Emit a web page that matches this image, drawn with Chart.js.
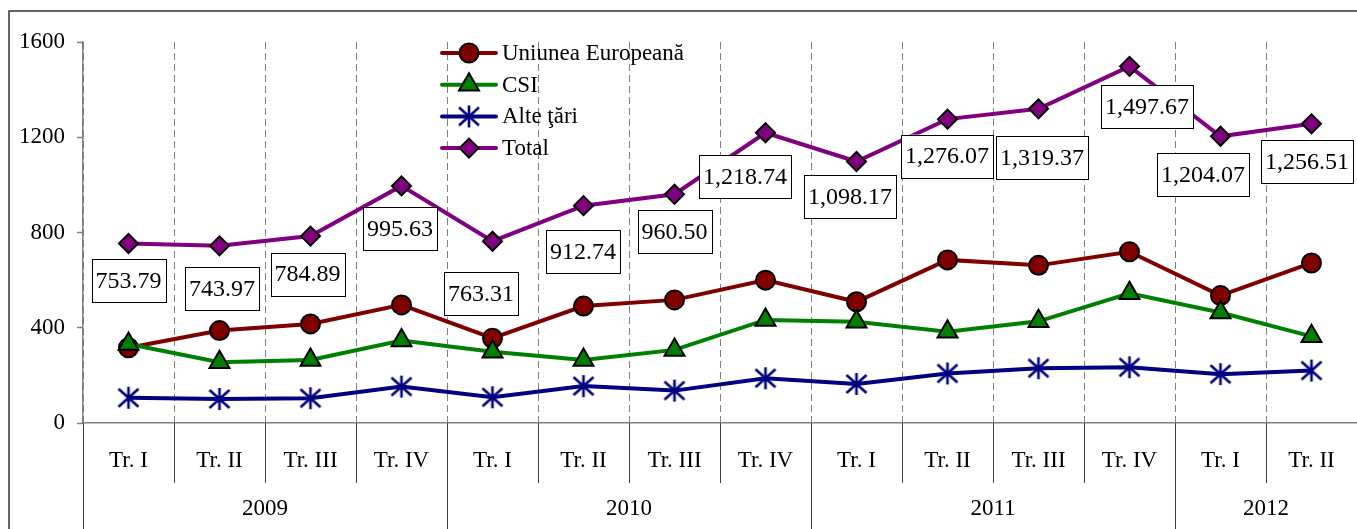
<!DOCTYPE html>
<html>
<head>
<meta charset="utf-8">
<script src="https://cdn.jsdelivr.net/npm/chart.js@4.4.0/dist/chart.umd.min.js"></script>
<style>
  html, body { margin: 0; padding: 0; background: #fff; overflow: hidden; }
  #wrap { position: relative; width: 1357px; height: 529px; }
</style>
</head>
<body>
<div id="wrap"><canvas id="chart"></canvas></div>
<script>
// Date
const quarters = ['Tr. I', 'Tr. II', 'Tr. III', 'Tr. IV', 'Tr. I', 'Tr. II', 'Tr. III', 'Tr. IV',
  'Tr. I', 'Tr. II', 'Tr. III', 'Tr. IV', 'Tr. I', 'Tr. II'];
const years = ['2009', '2010', '2011', '2012'];
const quartersPerYear = [4, 4, 4, 2];

const ueValues = [316, 388, 416, 496, 356, 491, 517, 600, 509, 685, 662, 719, 535, 672];
const csiValues = [332, 255, 265, 346, 299, 265, 307, 433, 425, 383, 427, 545, 464, 364];
const alteValues = [106, 101, 104, 153, 108, 155, 136, 188, 164, 208, 230, 234, 205, 220];
const totalValues = [753.79, 743.97, 784.89, 995.63, 763.31, 912.74, 960.50, 1218.74,
  1098.17, 1276.07, 1319.37, 1497.67, 1204.07, 1256.51];

const yTicks = [0, 400, 800, 1200, 1600];

const SERIF = '"Liberation Serif", "Times New Roman", serif';

// marker "asterisc" pentru Alte tari
function makeAsterisk(color) {
  const size = 26;
  const c = document.createElement('canvas');
  c.width = size;
  c.height = size;
  const g = c.getContext('2d');
  g.strokeStyle = color;
  g.lineWidth = 2.6;
  const m = size / 2;
  g.beginPath();
  g.moveTo(m, m - 11);
  g.lineTo(m, m + 11);
  g.moveTo(m - 10, m - 9);
  g.lineTo(m + 10, m + 9);
  g.moveTo(m + 10, m - 9);
  g.lineTo(m - 10, m + 9);
  g.stroke();
  return c;
}
const asterisk = makeAsterisk('#000080');

// deplasarea etichetelor fata de punct (px)
const labelShift = [[0, 37], [2.5, 42.5], [-3, 38], [-1.5, 42.5], [-11.5, 52], [-0.5, 46], [0, 37],
  [-20.5, 44], [-6.5, 35], [-0.5, 37], [3.5, 49], [17.5, 40], [-17.5, 38], [-4.5, 38]];

function fmt(v) {
  return v.toLocaleString('en-US', { minimumFractionDigits: 2, maximumFractionDigits: 2 });
}

/**
 * Etichete, axa pe doua niveluri, legenda si chenar
 */
const decorPlugin = {
  id: 'decor',
  afterDatasetsDraw(chart) {
    const ctx = chart.ctx;
    const meta = chart.getDatasetMeta(3);
    ctx.save();
    ctx.font = '24px ' + SERIF;
    ctx.textAlign = 'center';
    ctx.textBaseline = 'middle';
    meta.data.forEach((pt, i) => {
      const text = fmt(totalValues[i]);
      const w = ctx.measureText(text).width + 8;
      const h = 43;
      const cx = pt.x + labelShift[i][0];
      const cy = pt.y + labelShift[i][1];
      ctx.fillStyle = '#fff';
      ctx.fillRect(cx - w / 2, cy - h / 2, w, h);
      ctx.strokeStyle = '#000';
      ctx.lineWidth = 1;
      ctx.strokeRect(Math.round(cx - w / 2) + 0.5, Math.round(cy - h / 2) + 0.5, Math.round(w), h);
      ctx.fillStyle = '#000';
      ctx.fillText(text, cx, cy + 1);
    });
    ctx.restore();
  },
  afterDraw(chart) {
    const ctx = chart.ctx;
    const xs = chart.scales.x;
    const area = chart.chartArea;
    const half = (xs.getPixelForValue(1) - xs.getPixelForValue(0)) / 2;
    const H = chart.height;

    ctx.save();
    // chenar exterior
    ctx.strokeStyle = '#333';
    ctx.lineWidth = 1.5;
    ctx.strokeRect(9, 11, chart.width + 20, H + 20);

    // separatoare sub axa
    const yearStarts = [];
    let acc = 0;
    quartersPerYear.forEach(n => { yearStarts.push(acc); acc += n; });
    ctx.strokeStyle = '#404040';
    ctx.lineWidth = 1;
    for (let i = 0; i <= quarters.length; i++) {
      const x = Math.round(xs.getPixelForValue(i) - half) + 0.5;
      const isYear = yearStarts.includes(i);
      ctx.beginPath();
      ctx.moveTo(x, area.bottom);
      ctx.lineTo(x, isYear ? H : area.bottom + 60);
      ctx.stroke();
    }

    // etichete trimestre si ani
    ctx.fillStyle = '#000';
    ctx.font = '23px ' + SERIF;
    ctx.textAlign = 'center';
    ctx.textBaseline = 'middle';
    quarters.forEach((q, i) => {
      ctx.fillText(q, xs.getPixelForValue(i), area.bottom + 38);
    });
    years.forEach((y, k) => {
      const a = xs.getPixelForValue(yearStarts[k]) - half;
      const b = xs.getPixelForValue(yearStarts[k] + quartersPerYear[k] - 1) + half;
      ctx.fillText(y, (a + b) / 2, area.bottom + 86);
    });

    // legenda
    ctx.textAlign = 'left';
    chart.data.datasets.forEach((ds, k) => {
      const y = 53 + k * 31.7;
      ctx.strokeStyle = ds.borderColor;
      ctx.lineWidth = 4;
      ctx.lineCap = 'round';
      ctx.beginPath();
      ctx.moveTo(442, y);
      ctx.lineTo(496, y);
      ctx.stroke();
      ctx.fillStyle = ds.pointBackgroundColor;
      ctx.strokeStyle = ds.pointBorderColor;
      ctx.lineWidth = ds.pointBorderWidth;
      Chart.helpers.drawPoint(ctx, {
        pointStyle: ds.pointStyle, radius: ds.pointRadius, rotation: 0, borderWidth: ds.pointBorderWidth
      }, 469, y);
      ctx.fillStyle = '#000';
      ctx.fillText(ds.label, 502, y + 1);
    });
    ctx.restore();
  }
};

const ctxEl = document.getElementById('chart');
new Chart(ctxEl, {
  type: 'line',
  data: {
    labels: quarters,
    datasets: [
      {
        label: 'Uniunea Europeană', data: ueValues, order: 3,
        borderColor: '#800000', backgroundColor: '#800000', borderWidth: 4,
        pointStyle: 'circle', pointRadius: 9.5, pointBackgroundColor: '#800000',
        pointBorderColor: '#000', pointBorderWidth: 2
      },
      {
        label: 'CSI', data: csiValues, order: 2,
        borderColor: '#008000', backgroundColor: '#008000', borderWidth: 4,
        pointStyle: 'triangle', pointRadius: 11.5, pointBackgroundColor: '#008000',
        pointBorderColor: '#000', pointBorderWidth: 2
      },
      {
        label: 'Alte ţări', data: alteValues, order: 1,
        borderColor: '#000080', backgroundColor: '#000080', borderWidth: 4,
        pointStyle: asterisk, pointRadius: 10, pointBackgroundColor: '#000080',
        pointBorderColor: '#000080', pointBorderWidth: 1
      },
      {
        label: 'Total', data: totalValues, order: 0,
        borderColor: '#800080', backgroundColor: '#800080', borderWidth: 4,
        pointStyle: 'rectRot', pointRadius: 9.5, pointBackgroundColor: '#800080',
        pointBorderColor: '#000', pointBorderWidth: 2
      }
    ]
  },
  options: {
    responsive: true,
    maintainAspectRatio: false,
    animation: false,
    layout: { autoPadding: false, padding: { left: 8, top: 42, right: 0, bottom: 0 } },
    elements: { line: { tension: 0 } },
    plugins: {
      legend: { display: false },
      tooltip: { enabled: false }
    },
    scales: {
      x: {
        type: 'category',
        offset: true,
        grid: { offset: true, drawOnChartArea: true, drawTicks: false, color: '#808080', lineWidth: 1 },
        border: { display: true, color: '#808080', width: 1.5, dash: [7, 4] },
        ticks: { display: false },
        afterFit: s => { s.height = 106; }
      },
      y: {
        min: 0,
        max: 1600,
        afterBuildTicks: s => { s.ticks = yTicks.map(v => ({ value: v })); },
        ticks: { color: '#000', font: { family: SERIF, size: 23 }, padding: 12, callback: v => String(v) },
        grid: { drawOnChartArea: false, drawTicks: true, tickLength: 6, tickColor: '#808080', tickWidth: 1.5 },
        border: { display: true, color: '#808080', width: 1.5 },
        afterFit: s => { s.width = 75; }
      }
    }
  },
  plugins: [decorPlugin]
});
</script>
</body>
</html>
